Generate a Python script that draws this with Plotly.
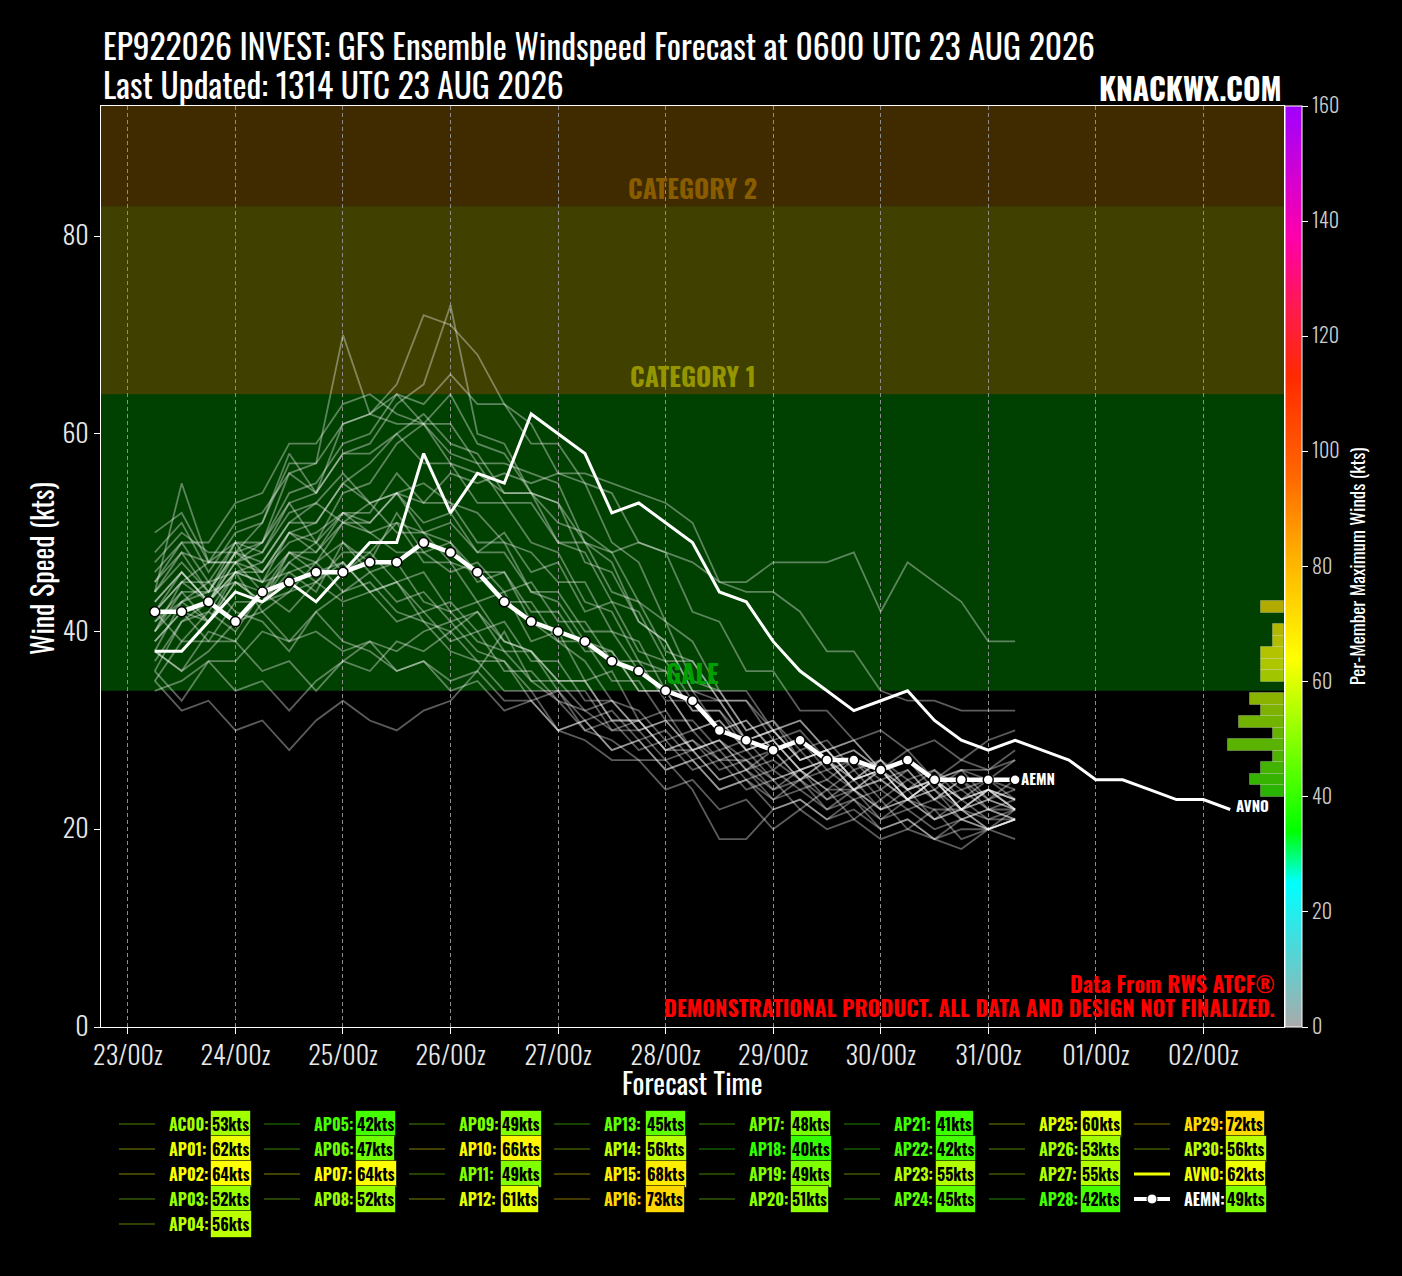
#GFS ensemble windspeed forecast plot for EP922026 (knackwx style), dark theme
import numpy as np
import pandas as pd
import plotly.graph_objects as go

FONT = "Oswald, 'Liberation Sans Narrow', 'Arial Narrow', 'DejaVu Sans Condensed', 'Roboto Condensed', sans-serif"

#%%
#data: 6 hourly intensities (kts) starting 0600 UTC 23 AUG 2026
INIT_TIME = '2026-08-23 06:00'

AC00 = [43,46,43,47,46,50,48,51,53,50,50,47,46,43,43,39,39,35,35,31,31,28,29,26,28,25,27,24,26,23,25,23,24]
AP01 = [40,44,41,46,47,51,51,55,57,60,62,59,58,54,54,49,48,43,42,37,37,33,33,29,30,27,28,26,27,24,26,23,25]
AP02 = [38,43,44,48,51,58,54,61,62,64,61,61,57,57,56,55,49,47,41,39,34,34,30,31,28,29,26,27,25,26,24,25,24]
AP03 = [50,52,47,49,45,46,44,49,47,52,48,49,45,46,41,39,37,33,32,29,30,27,27,25,26,24,24,22,23,22,22,21,21]
AP04 = [35,39,39,43,43,48,48,52,52,56,53,53,49,49,44,43,39,38,34,34,30,31,28,29,26,27,25,26,23,25,22,23,22]
AP05 = [36,33,37,37,40,39,42,39,38,36,37,34,35,32,33,30,31,28,29,26,27,24,25,23,24,22,23,21,22,20,21,20,21]
AP06 = [40,43,41,45,43,46,47,44,46,43,44,41,42,38,38,34,34,30,31,28,29,26,27,24,26,23,25,22,24,21,23,21,22]
AP07 = [45,49,49,53,54,59,59,63,64,62,61,57,56,54,54,51,50,48,49,48,47,45,44,44,42,38,38,34,33,33,32,32,32]
AP08 = [47,50,48,48,46,50,49,52,50,51,47,47,43,44,39,40,35,36,31,32,28,29,26,28,25,27,24,26,23,25,22,24,22]
AP09 = [45,48,44,45,43,47,49,46,48,45,46,42,43,39,38,35,35,31,31,28,29,27,28,25,26,24,26,23,25,23,24,22,23]
AP10 = [42,46,43,48,49,54,55,59,60,64,63,66,63,63,59,59,55,54,49,48,42,41,36,36,32,32,29,30,28,29,27,29,30]
AP11 = [38,36,40,39,43,44,47,49,46,47,43,42,39,38,35,35,32,33,30,31,28,29,27,28,25,27,24,26,23,25,23,24,23]
AP12 = [36,41,43,47,48,53,49,54,55,59,61,58,57,53,53,49,49,44,43,38,37,33,33,30,31,28,29,26,28,25,27,26,28]
AP13 = [42,39,42,40,44,42,45,43,44,41,42,39,40,36,36,33,32,30,30,27,28,25,26,23,25,22,24,21,23,21,22,20,21]
AP14 = [42,45,43,46,46,49,50,52,51,54,53,56,55,56,55,56,56,55,54,53,51,45,45,47,47,47,48,42,47,45,43,39,39]
AP15 = [40,45,47,47,49,56,57,70,62,61,61,64,59,58,54,53,47,46,41,39,34,33,29,30,27,28,25,27,24,25,23,24,23]
AP16 = [44,47,44,49,49,53,54,58,59,63,65,73,60,59,54,53,49,48,43,41,35,34,30,31,27,28,25,26,24,25,22,24,22]
AP17 = [43,46,43,46,45,48,46,47,44,45,42,43,40,41,37,37,33,33,30,31,28,29,26,27,25,26,24,25,23,24,22,23,22]
AP18 = [35,32,33,30,31,28,31,33,31,30,32,33,36,40,35,33,30,29,27,27,24,19,19,22,23,21,22,20,21,19,20,20,21]
AP19 = [46,49,45,46,42,44,45,47,44,45,41,40,37,37,33,34,31,32,29,30,27,28,25,26,24,25,23,24,22,23,21,22,21]
AP20 = [39,42,41,45,44,47,45,48,48,51,50,49,46,46,42,42,38,38,34,34,30,31,28,29,26,27,25,26,23,25,22,24,22]
AP21 = [34,35,37,34,35,32,35,37,39,38,40,41,38,37,34,34,30,31,28,29,26,27,24,25,22,24,21,23,20,22,19,20,19]
AP22 = [39,42,39,39,36,37,34,37,36,39,38,40,42,39,38,35,35,31,31,28,28,25,26,24,25,23,24,22,23,21,22,20,21]
AP23 = [44,55,47,47,44,48,47,51,51,54,55,53,52,49,48,45,45,40,39,34,34,30,31,28,29,26,27,25,26,23,25,22,22]
AP24 = [41,43,45,42,41,38,42,44,45,42,41,38,37,34,34,30,31,28,29,26,27,24,25,22,23,21,23,20,21,19,18,20,21]
AP25 = [44,48,47,51,52,56,54,58,58,60,57,57,53,53,49,48,43,42,37,36,32,32,29,30,27,28,25,27,24,26,23,25,23]
AP26 = [41,44,44,48,47,51,53,51,50,48,48,46,47,44,45,41,41,37,37,33,33,30,31,28,29,27,28,26,27,25,26,26,27]
AP27 = [37,41,42,46,45,50,51,55,53,54,51,52,48,48,44,44,40,40,36,36,32,32,28,29,26,27,24,25,23,24,21,22,21]
AP28 = [38,36,38,41,42,39,40,38,39,36,37,35,36,33,33,30,29,27,27,24,25,22,23,20,22,20,21,19,20,19,21,20,22]
AP29 = [48,51,46,50,51,57,57,61,62,65,72,71,68,63,61,56,55,49,47,41,39,34,34,30,31,28,29,26,27,25,26,25,27]
AP30 = [42,45,45,49,48,52,53,56,53,54,50,51,48,50,46,47,42,43,38,37,33,33,29,30,27,28,25,26,24,25,23,24,23]

AVNO = [38,38,41,44,43,45,43,46,49,49,58,52,56,55,62,60,58,52,53,51,49,44,43,39,36,34,32,33,34,31,29,28,29,28,27,25,25,24,23,23,22]
AEMN = [42,42,43,41,44,45,46,46,47,47,49,48,46,43,41,40,39,37,36,34,33,30,29,28,29,27,27,26,27,25,25,25,25]

members = {'AC00': AC00, 'AP01': AP01, 'AP02': AP02, 'AP03': AP03, 'AP04': AP04, 'AP05': AP05,
           'AP06': AP06, 'AP07': AP07, 'AP08': AP08, 'AP09': AP09, 'AP10': AP10, 'AP11': AP11,
           'AP12': AP12, 'AP13': AP13, 'AP14': AP14, 'AP15': AP15, 'AP16': AP16, 'AP17': AP17,
           'AP18': AP18, 'AP19': AP19, 'AP20': AP20, 'AP21': AP21, 'AP22': AP22, 'AP23': AP23,
           'AP24': AP24, 'AP25': AP25, 'AP26': AP26, 'AP27': AP27, 'AP28': AP28, 'AP29': AP29,
           'AP30': AP30}

#per member max winds shown in the legend (kts)
legend_names = ['AC00','AP01','AP02','AP03','AP04','AP05','AP06','AP07','AP08','AP09','AP10',
                'AP11','AP12','AP13','AP14','AP15','AP16','AP17','AP18','AP19','AP20','AP21',
                'AP22','AP23','AP24','AP25','AP26','AP27','AP28','AP29','AP30','AVNO','AEMN']
legend_max = [53,62,64,52,56,42,47,64,52,49,66,49,61,45,56,68,73,48,40,49,51,41,42,55,45,60,
              53,55,42,72,56,62,49]

day_ticks = ['2026-08-23','2026-08-24','2026-08-25','2026-08-26','2026-08-27','2026-08-28',
             '2026-08-29','2026-08-30','2026-08-31','2026-09-01','2026-09-02']
day_labels = ['23/00z','24/00z','25/00z','26/00z','27/00z','28/00z','29/00z','30/00z','31/00z',
              '01/00z','02/00z']

#colour scale for max winds (kts)
cs_vals = [0, 25, 34, 64, 83, 96, 113, 125, 137, 160]
cs_cols = ['#aaaaaa','#00ffff','#00ff00','#ffff00','#ffaa00','#ff6600','#ff2a00','#ff1a50','#ff00aa','#a000ff']

#%%
def hex_rgb(h):
    return [int(h[i:i+2], 16) for i in (1, 3, 5)]

def wind_colour(v, a=1.0):
    rgbs = np.array([hex_rgb(c) for c in cs_cols], dtype=float)
    r, g, b = [int(round(np.interp(v, cs_vals, rgbs[:, k]))) for k in range(3)]
    return 'rgba({},{},{},{})'.format(r, g, b, a)

CMAX = 160
colorscale = [[v / CMAX, c] for v, c in zip(cs_vals, cs_cols)]

times = pd.date_range(INIT_TIME, periods=len(AVNO), freq='6h')

#plot area in pixels, used to place the hand made legend and titles
PL, PR, PT, PB = 101, 1284, 106, 1027
YTOP = 93.15
def px(x):
    return (x - PL) / (PR - PL)
def py(y):
    return (PB - y) / (PB - PT)

fig = go.Figure()

#ensemble members
for name, vals in members.items():
    fig.add_trace(go.Scatter(x=times[:len(vals)], y=vals, mode='lines', name=name,
                             line=dict(color='rgba(255,255,255,0.36)', width=1.8),
                             hoverinfo='skip', showlegend=False))

fig.add_trace(go.Scatter(x=times, y=AVNO, mode='lines', name='AVNO',
                         line=dict(color='white', width=3), showlegend=False))
fig.add_trace(go.Scatter(x=times[:len(AEMN)], y=AEMN, mode='lines+markers', name='AEMN',
                         line=dict(color='white', width=4.5),
                         marker=dict(size=10, color='white', line=dict(color='black', width=1.5)),
                         showlegend=False))

#histogram of per member max winds, on the colorbar scale
counts, edges = np.histogram(legend_max, bins=np.arange(40, 76, 2))
keep = counts > 0
centres = (edges[:-1] + 1)[keep]
fig.add_trace(go.Bar(x=counts[keep], y=centres, width=2, orientation='h', xaxis='x2', yaxis='y2',
                     marker=dict(color=[wind_colour(c, 0.7) for c in centres],
                                 line=dict(color='rgba(255,255,255,0.25)', width=1)),
                     hoverinfo='skip', showlegend=False))

#dummy trace for the colorbar
fig.add_trace(go.Scatter(x=[times[0]], y=[-100], mode='markers', hoverinfo='skip', showlegend=False,
                         marker=dict(color=[0], colorscale=colorscale, cmin=0, cmax=CMAX, showscale=True,
                                     colorbar=dict(x=1.0008, xanchor='left', xpad=0, y=0, yanchor='bottom',
                                                   ypad=0, len=1, lenmode='fraction', thickness=17,
                                                   outlinecolor='white', outlinewidth=1,
                                                   tickvals=list(range(0, 161, 20)), ticks='outside',
                                                   ticklen=6, tickcolor='white',
                                                   tickfont=dict(family=FONT, size=20, color='#cccccc', weight=300),
                                                   title=dict(text='Per-Member Maximum Winds (kts)', side='right',
                                                              font=dict(family=FONT, size=19, color='white'))))))

#intensity bands
bands = [(34, 64, 'rgba(0,255,0,0.25)', 'GALE', '#00a000'),
         (64, 83, 'rgba(255,255,0,0.25)', 'CATEGORY 1', '#959500'),
         (83, YTOP, 'rgba(255,170,0,0.25)', 'CATEGORY 2', '#8a5c00')]
shapes = []
annotations = []
for lo, hi, fill, label, tcol in bands:
    shapes.append(dict(type='rect', xref='paper', x0=0, x1=1, yref='y', y0=lo, y1=hi,
                       fillcolor=fill, line=dict(width=0), layer='below'))
    annotations.append(dict(text=label, xref='paper', x=0.5, yref='y', y=lo, yanchor='bottom',
                            xanchor='center', showarrow=False, yshift=-3,
                            font=dict(family=FONT, size=26, color=tcol, weight='bold')))

#end of line labels
annotations.append(dict(text='AEMN', x=times[len(AEMN) - 1], y=AEMN[-1], xanchor='left', xshift=4, yshift=2,
                        showarrow=False, font=dict(family=FONT, size=15, color='white', weight='bold')))
annotations.append(dict(text='AVNO', x=times[-1], y=AVNO[-1], xanchor='left', xshift=4, yshift=4,
                        showarrow=False, font=dict(family=FONT, size=15, color='white', weight='bold')))

#titles
annotations.append(dict(text='EP922026 INVEST: GFS Ensemble Windspeed Forecast at 0600 UTC 23 AUG 2026',
                        xref='paper', yref='paper', x=0, y=py(45), xanchor='left', yanchor='middle',
                        showarrow=False, font=dict(family=FONT, size=33.5, color='white')))
annotations.append(dict(text='Last Updated: 1314 UTC 23 AUG 2026', xref='paper', yref='paper', x=0, y=py(84),
                        xanchor='left', yanchor='middle', showarrow=False,
                        font=dict(family=FONT, size=33.5, color='white')))
annotations.append(dict(text='KNACKWX.COM', xref='paper', yref='paper', x=1, y=py(87), xanchor='right',
                        yanchor='middle', showarrow=False,
                        font=dict(family=FONT, size=30, color='white', weight='bold')))
annotations.append(dict(text='Wind Speed (kts)', xref='paper', yref='paper', x=px(41), y=py(569),
                        xanchor='center', yanchor='middle', textangle=-90, showarrow=False,
                        font=dict(family=FONT, size=28, color='white')))
annotations.append(dict(text='Forecast Time', xref='paper', yref='paper', x=px(692), y=py(1082),
                        xanchor='center', yanchor='middle', showarrow=False,
                        font=dict(family=FONT, size=28, color='white')))
annotations.append(dict(text='Data From RWS ATCF®', xref='paper', yref='paper', x=px(1277), y=py(983),
                        xanchor='right', yanchor='middle', showarrow=False,
                        font=dict(family=FONT, size=22, color='#ff0000', weight='bold')))
annotations.append(dict(text='DEMONSTRATIONAL PRODUCT. ALL DATA AND DESIGN NOT FINALIZED.', xref='paper',
                        yref='paper', x=px(1277), y=py(1007), xanchor='right', yanchor='middle', showarrow=False,
                        font=dict(family=FONT, size=22, color='#ff0000', weight='bold')))

#legend, 8 columns built by hand so the max wind badge can be coloured
for i, (name, vmax) in enumerate(zip(legend_names, legend_max)):
    if i < 5:
        col, row = 0, i
    else:
        col, row = 1 + (i - 5) // 4, (i - 5) % 4
    name_x = 167 + 145 * col
    row_y = 1124 + 25 * row
    colour = wind_colour(vmax)
    if name == 'AVNO':
        shapes.append(dict(type='line', xref='paper', yref='paper', x0=px(name_x - 48), x1=px(name_x - 12),
                           y0=py(row_y), y1=py(row_y), line=dict(color=colour, width=3)))
    elif name == 'AEMN':
        shapes.append(dict(type='line', xref='paper', yref='paper', x0=px(name_x - 48), x1=px(name_x - 12),
                           y0=py(row_y), y1=py(row_y), line=dict(color='white', width=4)))
        shapes.append(dict(type='circle', xref='paper', yref='paper', xsizemode='pixel', ysizemode='pixel',
                           xanchor=px(name_x - 30), yanchor=py(row_y), x0=-5, x1=5, y0=-5, y1=5,
                           fillcolor='white', line=dict(color='black', width=1)))
    else:
        shapes.append(dict(type='line', xref='paper', yref='paper', x0=px(name_x - 48), x1=px(name_x - 12),
                           y0=py(row_y), y1=py(row_y), line=dict(color=wind_colour(vmax, 0.35), width=1.5)))
    annotations.append(dict(text=name + ':', xref='paper', yref='paper', x=px(name_x), y=py(row_y),
                            xanchor='left', yanchor='middle', showarrow=False,
                            font=dict(family=FONT, size=16, weight='bold',
                                      color='white' if name == 'AEMN' else colour)))
    annotations.append(dict(text='{}kts'.format(vmax), xref='paper', yref='paper', x=px(name_x + 43),
                            y=py(row_y), xanchor='left', yanchor='middle', showarrow=False,
                            bgcolor=colour, bordercolor='rgba(0,0,0,0.6)', borderwidth=1, borderpad=1,
                            font=dict(family=FONT, size=16, color='black', weight='bold')))

fig.update_layout(
    width=1402, height=1276,
    margin=dict(l=PL, r=1402 - PR, t=PT, b=1276 - PB),
    paper_bgcolor='black', plot_bgcolor='black',
    shapes=shapes, annotations=annotations,
    showlegend=False,
    xaxis=dict(type='date', range=['2026-08-22 18:00', '2026-09-02 18:00'], tickvals=day_ticks,
               ticktext=day_labels, showgrid=True, gridcolor='#8c8c8c', gridwidth=1, griddash='4px,3px',
               ticks='outside', ticklen=6, tickcolor='white', showline=True, linecolor='white',
               linewidth=1, mirror=True, zeroline=False,
               tickfont=dict(family=FONT, size=26, color='#e8e8e8', weight=300)),
    yaxis=dict(range=[0, YTOP], tickvals=[0, 20, 40, 60, 80], showgrid=False, zeroline=False,
               ticks='outside', ticklen=6, tickcolor='white', showline=True, linecolor='white',
               linewidth=1, mirror=True, tickfont=dict(family=FONT, size=26, color='#e8e8e8', weight=300)),
    xaxis2=dict(overlaying='x', range=[105, 0], visible=False, showgrid=False, zeroline=False),
    yaxis2=dict(overlaying='y', range=[0, CMAX], visible=False, showgrid=False, zeroline=False),
    bargap=0,
)

fig.write_html("out.html", config={'displayModeBar': False},
               post_script="document.body.style.margin='0';")
